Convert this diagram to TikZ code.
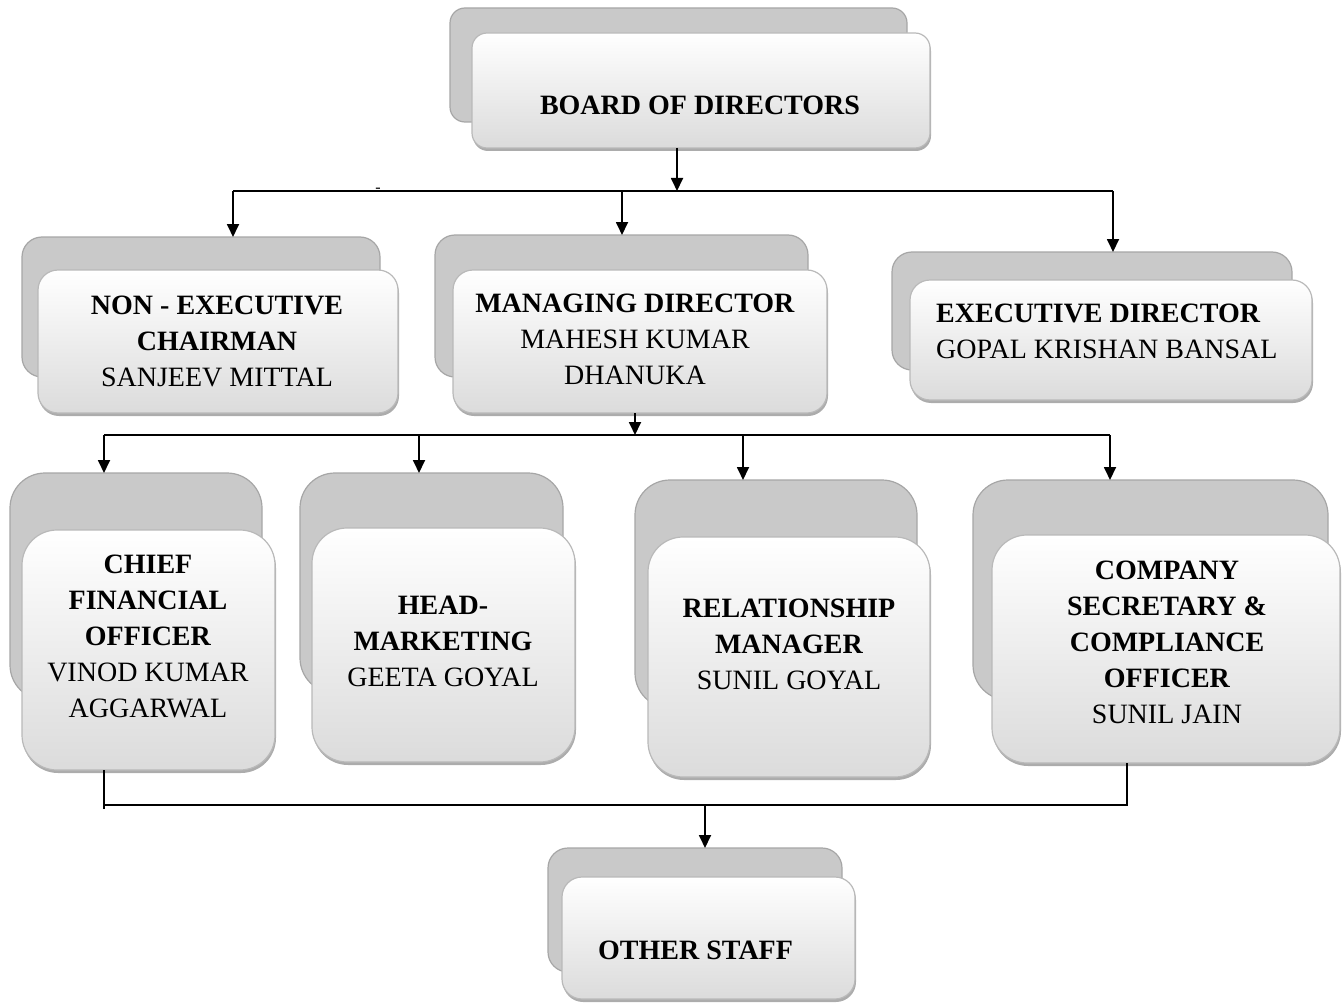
\documentclass[tikz,border=0pt]{standalone}
\usepackage{fontspec}
\setmainfont{Liberation Serif}
\usetikzlibrary{arrows.meta,shadows}
\begin{document}
\begin{tikzpicture}[x=1pt,y=-1pt,
  backbox/.style={draw=gray!70, line width=1.2pt, fill=gray!42, inner sep=0pt, outer sep=0pt},
  frontbox/.style={draw=gray!55, line width=1.2pt, top color=white, bottom color=gray!28, inner sep=0pt, outer sep=0pt,
    drop shadow={shadow xshift=1pt, shadow yshift=-3pt, fill=gray!65, opacity=1}},
  txt/.style={align=center, inner sep=0pt, font=\fontsize{28}{36}\selectfont},
  conn/.style={line width=1.8pt, black},
  arr/.style={conn, -{Triangle[length=13pt,width=12pt]}}]
\useasboundingbox (0,0) rectangle (1343,1003);
% ---------- boxes ----------
% Board
\node[backbox, rounded corners=15pt, minimum width=457pt, minimum height=114pt] (boardB) at (678.5,65) {};
\node[frontbox, rounded corners=15pt, minimum width=458pt, minimum height=115pt] (board) at (701,90.5) {};
\node[txt] (boardT) at (700,105) {\textbf{BOARD OF DIRECTORS}};
% Non-executive chairman
\node[backbox, rounded corners=20pt, minimum width=358pt, minimum height=140pt] (nonexecB) at (201,307) {};
\node[frontbox, rounded corners=20pt, minimum width=360pt, minimum height=143pt] (nonexec) at (218,341.5) {};
\node[txt] (nonexecT) at (217,341) {\textbf{NON - EXECUTIVE}\\\textbf{CHAIRMAN}\\SANJEEV MITTAL};
% Managing director
\node[backbox, rounded corners=20pt, minimum width=373pt, minimum height=142pt] (mdB) at (621.5,306) {};
\node[frontbox, rounded corners=20pt, minimum width=374pt, minimum height=143pt] (md) at (640,341.5) {};
\node[txt] (mdT) at (635,339) {\textbf{MANAGING DIRECTOR}\\MAHESH KUMAR\\DHANUKA};
% Executive director
\node[backbox, rounded corners=20pt, minimum width=400pt, minimum height=118pt] (execB) at (1092,311) {};
\node[frontbox, rounded corners=20pt, minimum width=402pt, minimum height=120pt] (exec) at (1111,340) {};
\node[txt, align=left, anchor=west] (execT) at (936,331) {\textbf{EXECUTIVE DIRECTOR}\\GOPAL KRISHAN BANSAL};
% CFO
\node[backbox, rounded corners=35pt, minimum width=252pt, minimum height=227pt] (cfoB) at (136,586.5) {};
\node[frontbox, rounded corners=35pt, minimum width=253pt, minimum height=240pt] (cfo) at (148.5,650) {};
\node[txt] (cfoT) at (148,636) {\textbf{CHIEF}\\\textbf{FINANCIAL}\\\textbf{OFFICER}\\VINOD KUMAR\\AGGARWAL};
% Head marketing
\node[backbox, rounded corners=35pt, minimum width=263pt, minimum height=220pt] (hmB) at (431.5,583) {};
\node[frontbox, rounded corners=35pt, minimum width=263pt, minimum height=234pt] (hm) at (443.5,645) {};
\node[txt] (hmT) at (443,641) {\textbf{HEAD-}\\\textbf{MARKETING}\\GEETA GOYAL};
% Relationship manager
\node[backbox, rounded corners=35pt, minimum width=282pt, minimum height=228pt] (rmB) at (776,594) {};
\node[frontbox, rounded corners=35pt, minimum width=282pt, minimum height=240pt] (rm) at (789,657) {};
\node[txt] (rmT) at (789,644) {\textbf{RELATIONSHIP}\\\textbf{MANAGER}\\SUNIL GOYAL};
% Company secretary
\node[backbox, rounded corners=35pt, minimum width=355pt, minimum height=220pt] (csB) at (1150.5,590) {};
\node[frontbox, rounded corners=35pt, minimum width=348pt, minimum height=228pt] (cs) at (1166,649) {};
\node[txt] (csT) at (1167,642) {\textbf{COMPANY}\\\textbf{SECRETARY \&}\\\textbf{COMPLIANCE}\\\textbf{OFFICER}\\SUNIL JAIN};
% Other staff
\node[backbox, rounded corners=20pt, minimum width=294pt, minimum height=124pt] (otherB) at (695,910) {};
\node[frontbox, rounded corners=20pt, minimum width=293pt, minimum height=122pt] (other) at (708.5,938) {};
\node[txt, anchor=west] (otherT) at (598,950) {\textbf{OTHER STAFF}};
% ---------- connectors ----------
\coordinate (j0) at (677,191);
\coordinate (j1) at (233,191);
\coordinate (j2) at (622,191);
\coordinate (j3) at (1113,191);
\draw[arr] (board.south -| j0) -- (j0);
\draw[conn] (j1) -- (j3);
\draw[arr] (j1) -- (j1 |- nonexecB.north);
\draw[arr] (j2) -- (j2 |- mdB.north);
\draw[arr] (j3) -- (j3 |- execB.north);
\node[inner sep=0pt, anchor=base, font=\fontsize{16}{16}\selectfont] (stray) at (378,193) {-};
\coordinate (k0) at (635,435);
\coordinate (k1) at (104,435);
\coordinate (k2) at (419,435);
\coordinate (k3) at (743,435);
\coordinate (k4) at (1110,435);
\draw[arr] (md.south -| k0) -- (k0);
\draw[conn] (k1) -- (k4);
\draw[arr] (k1) -- (k1 |- cfoB.north);
\draw[arr] (k2) -- (k2 |- hmB.north);
\draw[arr] (k3) -- (k3 |- rmB.north);
\draw[arr] (k4) -- (k4 |- csB.north);
\coordinate (m1) at (104,805);
\coordinate (m2) at (1127,805);
\coordinate (m0) at (705,805);
\draw[conn] (cfo.south -| m1) -- (104,809);
\draw[conn] (m1) -- (m2) -- (cs.south -| m2);
\draw[arr] (m0) -- (m0 |- otherB.north);
\end{tikzpicture}
\end{document}
